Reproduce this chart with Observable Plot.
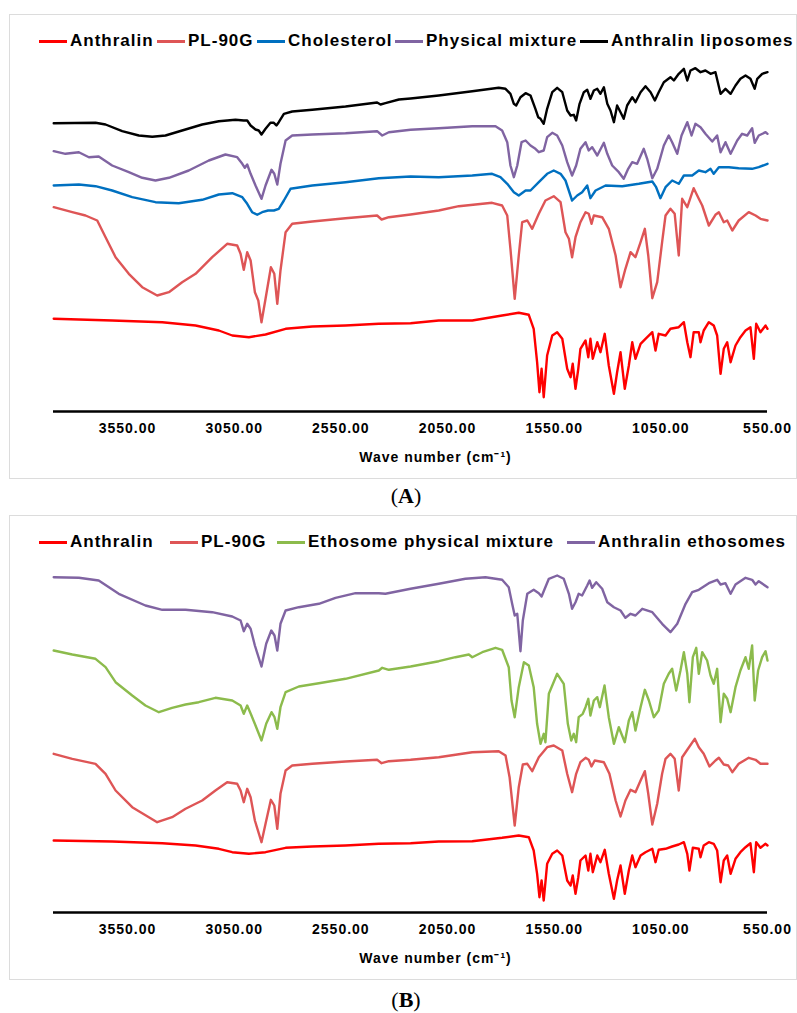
<!DOCTYPE html>
<html><head><meta charset="utf-8">
<script src="https://cdn.jsdelivr.net/npm/d3@7"></script>
<script src="https://cdn.jsdelivr.net/npm/@observablehq/plot@0.6"></script>
<style>
body{margin:0;background:#fff;font-family:"Liberation Sans",Arial,sans-serif;}
#page{position:relative;width:797px;height:1013px;overflow:hidden;}
.box{position:absolute;left:9px;width:788px;height:465px;border:1.5px solid #dcdcdc;box-sizing:border-box;}
.item{position:absolute;display:flex;align-items:center;height:20px;font-weight:bold;font-size:17px;letter-spacing:1px;white-space:nowrap;color:#000;}
.swatch{width:28px;height:3px;margin-right:3px;flex:none;}
.chart{position:absolute;left:9px;}
.chart svg{overflow:visible;}
.chart svg g[aria-label="x-axis tick label"] text{letter-spacing:1px;}
.chart svg g[aria-label="text"] text{letter-spacing:1px;}
.caption{position:absolute;left:0;width:812px;text-align:center;font-family:"Liberation Serif","Times New Roman",serif;font-size:22px;line-height:24px;}
</style>
</head><body><div id="page"></div>
<script>
// x tick values (wave number, cm-1)
const tickValues = [3550, 3050, 2550, 2050, 1550, 1050, 550];

// ---- Panel A series: [wave number, relative transmittance offset] ----
const anthralinA = [[3896,92.7],[3622,91],[3387,89.3],[3231,86],[3122,81],[3059,76],[2981,74.3],[2903,77],[2809,82.7],[2684,85],[2528,86],[2372,87.7],[2223,88.3],[2091,91],[1934,91],[1794,96],[1716,98.7],[1669,96.7],[1646,82.7],[1630,49.3],[1619,19.3],[1609,42.7],[1599,14.3],[1583,56],[1559,76],[1536,79.3],[1512,72.7],[1489,42.7],[1473,34.3],[1463,47.7],[1450,22.7],[1437,42.7],[1427,62.7],[1403,71],[1390,54.3],[1380,72.7],[1369,52.7],[1348,69.3],[1333,59.3],[1313,77.7],[1294,46],[1270,17.7],[1255,39.3],[1239,59.3],[1219,22.7],[1200,46],[1184,69.3],[1169,52.7],[1145,67.7],[1122,72.7],[1090,79.3],[1075,61],[1060,77.7],[1028,76],[1005,82.7],[966,84.3],[942,89.3],[926,69.3],[911,54.3],[896,79.3],[872,79.3],[864,69.3],[849,81],[825,89.3],[802,86],[786,76],[770,37.7],[755,62.7],[739,69.3],[723,49.3],[700,66],[677,74.3],[653,81],[630,84.3],[614,52.7],[603,87.7],[583,79.3],[559,86],[550,82.7]];
const pl90gA = [[3896,204.3],[3809,199.3],[3747,196],[3692,191],[3653,174.3],[3606,154.3],[3544,137.7],[3481,124.3],[3411,116],[3356,119.3],[3294,129.3],[3231,137.7],[3153,154.3],[3083,167.7],[3036,166],[3020,157.7],[3005,141.7],[2989,159.3],[2973,151],[2953,119.3],[2937,111],[2922,89.3],[2903,112.7],[2878,144.3],[2862,137.7],[2848,107.7],[2833,141],[2809,179.3],[2778,187.7],[2684,190],[2528,193.3],[2380,196],[2359,192],[2325,194.3],[2223,197],[2091,201],[1997,205.3],[1841,208.7],[1794,206],[1770,196],[1755,162.7],[1735,112.7],[1716,156],[1700,189.3],[1676,191],[1653,182.7],[1622,197.7],[1591,211],[1552,215.3],[1520,209.3],[1497,179.3],[1481,172.7],[1466,154.3],[1450,174.3],[1427,189.3],[1403,199.3],[1388,197.7],[1375,187.7],[1364,196],[1325,194.3],[1294,182.7],[1262,156],[1239,124.3],[1216,142.7],[1192,159.3],[1169,154.3],[1145,169.3],[1125,182.7],[1109,156],[1090,113.3],[1067,129.3],[1044,169.3],[1028,196],[1005,202.7],[985,197.7],[966,156],[950,212.7],[926,204.3],[896,223.3],[872,212.7],[856,206],[825,186],[794,196.7],[778,199.3],[755,189.3],[739,191],[715,181],[685,191],[638,199.3],[606,196],[583,192.7],[550,191]];
const cholesterolA = [[3896,226],[3778,227],[3700,225.3],[3622,221],[3528,214.3],[3419,209.3],[3310,208.3],[3200,211.7],[3122,217],[3059,218.3],[3012,214.3],[2989,207.7],[2966,199.3],[2942,196.7],[2919,199.3],[2891,201],[2864,201],[2841,202.7],[2817,211],[2786,222.7],[2684,226],[2528,229.3],[2372,233.3],[2223,235],[2091,234.3],[1934,236],[1841,237.7],[1802,234.3],[1770,227.7],[1739,219.3],[1716,216],[1684,221],[1661,221],[1622,229.3],[1583,237.7],[1552,241],[1520,237.7],[1497,231],[1466,211],[1442,216],[1419,219.3],[1395,226],[1380,213.3],[1356,221],[1309,226],[1231,225.3],[1153,227.7],[1090,230],[1072,224.3],[1052,213.3],[1028,224.3],[997,231],[966,227.7],[942,236],[903,236],[872,241],[841,239.3],[817,242.7],[802,237.7],[778,244.3],[731,244.3],[685,243.3],[622,242.7],[591,244.3],[550,247.7]];
const physMixA = [[3896,260.3],[3841,257.7],[3778,259.3],[3731,254.3],[3685,255],[3622,246],[3544,239.3],[3481,233.7],[3419,231],[3356,233.7],[3263,241],[3169,251],[3091,257],[3036,254.3],[3012,247.7],[3000,243.7],[2989,247],[2973,237.7],[2950,226],[2922,212.7],[2903,226],[2875,241.7],[2862,237.7],[2848,227],[2833,247.7],[2809,271],[2778,276],[2684,277],[2528,278.3],[2380,280.3],[2356,276],[2325,279.3],[2223,281.7],[2091,283.3],[1934,285.3],[1825,285.3],[1794,281],[1770,269.3],[1755,246],[1739,234.3],[1723,246],[1703,269.3],[1684,271],[1661,266],[1638,262.7],[1622,259.3],[1599,261],[1583,274.3],[1559,278.7],[1536,276],[1512,266],[1489,249.3],[1466,236],[1447,246],[1427,262.7],[1403,269.3],[1388,261],[1372,264.3],[1348,256],[1317,268.7],[1301,257.7],[1278,246],[1247,239.3],[1224,232.7],[1203,242.7],[1184,249.3],[1161,247.7],[1130,262.7],[1114,252.7],[1090,233.3],[1067,242.7],[1036,266],[1013,276],[997,269.3],[973,257.7],[953,276],[926,289.3],[906,276],[888,287.7],[864,284.3],[841,277.7],[809,270],[786,276],[770,259.3],[747,269.3],[723,257.7],[692,271],[669,277.7],[645,276],[622,283.3],[610,268.7],[591,276],[559,279.3],[550,277.7]];
const liposomesA = [[3896,288.3],[3700,288.7],[3653,287],[3575,280.3],[3497,276],[3434,274.7],[3372,276],[3294,281],[3200,287],[3122,290.3],[3044,291.7],[3005,291],[2989,291],[2973,286],[2950,282],[2935,281],[2922,277],[2903,282.7],[2880,288.7],[2864,288.7],[2852,286],[2841,289.3],[2817,297.7],[2778,300],[2684,301.7],[2528,305],[2380,309],[2364,307],[2341,308.3],[2278,312],[2223,313],[2091,316],[1934,320.3],[1810,323.7],[1778,322.7],[1755,317.7],[1739,307.7],[1728,306],[1708,314.3],[1684,318.3],[1661,316],[1638,302.7],[1625,294.3],[1614,292.7],[1599,287.7],[1583,302.7],[1559,319.3],[1536,323.7],[1512,319.3],[1489,301],[1473,296],[1458,296.7],[1447,291],[1431,307.7],[1411,319.3],[1395,321.7],[1380,312.7],[1364,321],[1348,322.7],[1333,317.7],[1317,324.3],[1301,307.7],[1286,301],[1270,289.3],[1255,306],[1239,299.3],[1224,292.7],[1208,306],[1184,314.3],[1169,309.3],[1145,319.3],[1122,325.3],[1098,319.3],[1078,311],[1060,319.3],[1036,329.3],[1005,334.3],[989,331],[966,337.7],[942,342.7],[926,331],[911,341],[888,343.3],[864,339.3],[841,341],[817,337.7],[794,339.3],[770,317.7],[747,322.7],[723,317.7],[700,326],[677,332.7],[653,336],[630,332.7],[610,322.7],[598,332.7],[575,337.7],[550,339.3]];

// ---- Panel B series ----
const anthralinB = [[3896,72],[3622,71],[3387,69.3],[3231,67],[3122,63.7],[3059,60.3],[2981,58.7],[2903,60.3],[2809,64.7],[2684,66],[2528,67],[2372,68.7],[2223,69.3],[2091,71],[1934,71.3],[1794,74.7],[1716,77],[1669,75.3],[1646,62],[1630,38.7],[1619,15.3],[1609,32],[1599,12],[1583,48.7],[1559,58.7],[1536,62],[1512,57],[1489,32],[1473,27],[1463,37],[1450,18.7],[1437,35.3],[1427,52],[1403,57],[1390,42],[1380,58.7],[1369,40.3],[1348,57],[1333,50.3],[1313,62.7],[1294,38.7],[1270,13.7],[1255,32],[1239,47],[1219,18.7],[1200,42],[1184,57],[1169,45.3],[1145,57],[1122,60.3],[1090,63.7],[1075,50.3],[1060,62.7],[1028,63.7],[997,66],[966,68],[942,70.3],[926,58.7],[916,42],[900,64.7],[872,63.7],[864,55.3],[849,67],[825,70.3],[802,68.7],[786,62],[770,30.3],[755,52],[739,57],[723,38.7],[700,53.7],[677,60.3],[653,65.3],[630,69.3],[614,40.3],[603,70.3],[583,64.7],[559,68.7],[550,67]];
const pl90gB = [[3896,158.7],[3809,153.7],[3700,148.7],[3653,138.7],[3606,122],[3528,105.3],[3411,90.3],[3341,95.3],[3278,103.7],[3200,112],[3138,122],[3083,130.3],[3036,128.7],[3020,122],[3005,110.3],[2989,123.7],[2973,115.3],[2953,92],[2922,70.3],[2903,88.7],[2878,112.7],[2862,107],[2848,83.7],[2833,118.7],[2809,142],[2778,147],[2684,148.7],[2528,151],[2380,152.7],[2359,149.3],[2325,151.3],[2223,152.7],[2091,155.3],[1934,160.3],[1810,161.3],[1778,157],[1759,135.3],[1735,87],[1716,125.3],[1697,148],[1676,148.7],[1653,141.3],[1622,155.3],[1583,165.3],[1552,167],[1512,162],[1489,138.7],[1466,120.3],[1447,138.7],[1427,150.3],[1403,154.7],[1388,152.7],[1375,146],[1360,152],[1317,150.3],[1291,138.7],[1262,112],[1239,96],[1216,112],[1192,122.7],[1169,120.3],[1145,132],[1125,141.3],[1109,118.7],[1090,88],[1067,108.7],[1044,138.7],[1028,153.7],[1005,158.7],[985,153.7],[966,122],[950,155.3],[926,162.7],[891,173.7],[872,165.3],[849,158.7],[822,146],[794,152],[778,154.7],[755,148],[734,147],[715,140.3],[685,148.7],[638,154.7],[606,152.7],[583,148.7],[550,148.7]];
const ethoMixB = [[3896,262],[3809,258],[3700,253.7],[3653,245.3],[3606,230.3],[3528,217],[3466,207],[3403,200.3],[3341,204.7],[3278,208],[3216,210.3],[3138,214.7],[3059,212],[3020,207],[3005,198.7],[2989,207],[2969,197],[2950,187],[2922,172],[2900,188.7],[2875,200.3],[2861,195.3],[2848,183.7],[2833,205.3],[2809,220.3],[2747,226],[2653,229.3],[2528,233.7],[2372,242],[2356,244.7],[2325,242.7],[2223,246],[2091,251.3],[2013,255.3],[1950,258],[1934,255.3],[1887,260.3],[1825,264.7],[1794,262.7],[1763,245.3],[1750,212],[1735,195.3],[1716,225.3],[1692,250.3],[1669,247],[1646,225.3],[1630,188.7],[1614,168.7],[1599,178.7],[1591,170.3],[1575,218.7],[1536,238.7],[1505,228.7],[1486,188.7],[1470,172],[1458,178.7],[1447,170.3],[1435,195.3],[1416,198.7],[1403,205.3],[1390,213.7],[1380,197],[1364,212],[1348,215.3],[1336,205.3],[1314,227],[1294,195.3],[1270,168.7],[1247,185.3],[1219,170.3],[1200,192],[1184,200.3],[1169,182],[1145,205.3],[1125,222.7],[1106,212],[1083,195.3],[1060,202],[1036,228.7],[1013,238.7],[997,243.7],[978,222],[958,242],[942,260.3],[926,238.7],[916,210.3],[900,255.3],[884,264.7],[872,238.7],[856,260.3],[833,252],[817,237],[802,228.7],[786,243.7],[770,190.3],[755,218.7],[739,213.7],[723,200.3],[700,225.3],[677,242],[653,255.3],[638,243.7],[622,267],[610,212],[594,242],[575,255.3],[559,261.3],[550,252]];
const ethosomesB = [[3896,335.3],[3778,334.7],[3685,332],[3591,318.7],[3466,307],[3387,302.7],[3278,302.7],[3153,300.3],[3059,296],[3020,292],[3005,281.3],[2989,288.7],[2973,283.7],[2953,267],[2922,246],[2900,268.7],[2876,282],[2861,277],[2848,262],[2833,288.7],[2809,302],[2747,305.3],[2653,308.7],[2575,314.7],[2481,319.3],[2372,319.3],[2341,318.7],[2223,323.7],[2091,328.7],[1966,333.7],[1872,335.3],[1794,332.7],[1763,325.3],[1747,308.7],[1735,297],[1723,298.7],[1708,261.3],[1697,292],[1676,318.7],[1646,322.7],[1622,319.3],[1609,316],[1599,321.3],[1575,333.7],[1536,337],[1505,333.7],[1481,318.7],[1466,303.7],[1450,310.3],[1435,318.7],[1419,317],[1395,327],[1384,332],[1372,324.7],[1353,330.3],[1325,323.7],[1301,310.3],[1270,305.3],[1239,302],[1216,294.7],[1192,298.7],[1169,297],[1137,303.7],[1090,300.3],[1044,288.7],[1005,280.3],[973,288.7],[934,308.7],[903,320.3],[872,322.7],[825,329.3],[786,332.7],[770,328],[747,329.3],[723,318.7],[700,328],[653,334.7],[622,332.7],[606,328],[591,331.3],[550,325.3]];

const seriesA = [
  {name: "Anthralin", color: "#FF0000", data: anthralinA},
  {name: "PL-90G", color: "#DE5556", data: pl90gA},
  {name: "Cholesterol", color: "#0070C0", data: cholesterolA},
  {name: "Physical mixture", color: "#8064A2", data: physMixA},
  {name: "Anthralin liposomes", color: "#000000", data: liposomesA}
];
const seriesB = [
  {name: "Anthralin", color: "#FF0000", data: anthralinB},
  {name: "PL-90G", color: "#DE5556", data: pl90gB},
  {name: "Ethosome physical mixture", color: "#8CBB4C", data: ethoMixB},
  {name: "Anthralin ethosomes", color: "#8064A2", data: ethosomesB}
];
const axisTitle = "Wave number (cm\u207B\u00B9)";

const page = document.getElementById("page");

function makePanel(series, cfg) {
  const box = document.createElement("div");
  box.className = "box";
  box.style.top = cfg.boxTop + "px";
  page.appendChild(box);

  series.forEach((s, i) => {
    const it = document.createElement("div");
    it.className = "item";
    it.style.left = cfg.legendX[i] + "px";
    it.style.top = cfg.legendTop + "px";
    const sw = document.createElement("span");
    sw.className = "swatch";
    sw.style.background = s.color;
    const tx = document.createElement("span");
    tx.textContent = s.name;
    it.appendChild(sw); it.appendChild(tx);
    page.appendChild(it);
  });

  const chart = Plot.plot({
    width: 788, height: 418,
    marginLeft: 44, marginRight: 30, marginTop: 0, marginBottom: 62,
    style: {fontFamily: "'Liberation Sans', Arial, sans-serif", fontSize: "14px", fontWeight: "bold", background: "transparent", color: "#000"},
    x: {domain: [3897, 550], ticks: tickValues, tickFormat: d => d.toFixed(2), tickSize: 0, tickPadding: 12, label: null},
    y: {domain: [0, 356], axis: null},
    marks: [
      ...series.map(s => Plot.line(s.data, {x: d => d[0], y: d => d[1], stroke: s.color, strokeWidth: 2.4, strokeLinejoin: "round"})),
      Plot.ruleY([0], {stroke: "#000", strokeWidth: 2.6}),
      Plot.text([axisTitle], {frameAnchor: "bottom", dx: 25, dy: 50, fontSize: 14, fontWeight: "bold", fill: "#000"})
    ]
  });
  const wrap = document.createElement("div");
  wrap.className = "chart";
  wrap.style.top = cfg.chartTop + "px";
  wrap.appendChild(chart);
  page.appendChild(wrap);

  const cap = document.createElement("div");
  cap.className = "caption";
  cap.style.top = cfg.captionTop + "px";
  cap.innerHTML = "(<b>" + cfg.caption + "</b>)";
  page.appendChild(cap);
}

makePanel(seriesA, {boxTop: 14, legendTop: 31, legendX: [39, 157, 257, 395, 580], chartTop: 55, captionTop: 484, caption: "A"});
makePanel(seriesB, {boxTop: 515, legendTop: 532, legendX: [39, 170, 277, 567], chartTop: 556, captionTop: 988, caption: "B"});
</script>
</body></html>
